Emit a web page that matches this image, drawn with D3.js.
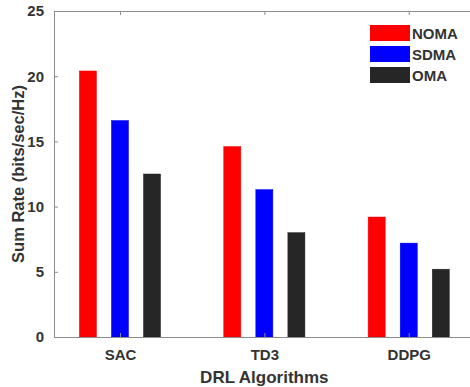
<!DOCTYPE html>
<html>
<head>
<meta charset="utf-8">
<script src="https://cdn.jsdelivr.net/npm/d3@7"></script>
<style>
  body { margin: 0; background: #fff; }
  svg text { font-family: "Liberation Sans", Arial, sans-serif; font-weight: bold; fill: #333; }
</style>
</head>
<body>
<div id="chart"></div>
<script>
// data
var categories = ["SAC", "TD3", "DDPG"];
var seriesNames = ["NOMA", "SDMA", "OMA"];
var seriesColors = ["#ff0000", "#0000ff", "#262626"];
var noma = [20.4, 14.6, 9.2];
var sdma = [16.6, 11.3, 7.2];
var oma = [12.5, 8.0, 5.2];
var yTicks = [0, 5, 10, 15, 20, 25];

var series = [noma, sdma, oma];

var width = 470, height = 387;
var margin = { top: 11, left: 54, bottom: 50 };
var plotRight = 474.7;

var svg = d3.select("#chart").append("svg")
    .attr("width", width)
    .attr("height", height);

// group index 1..3 on a linear scale, like the matlab bar chart
var x = d3.scaleLinear()
    .domain([0.543, 3.457])
    .range([margin.left, plotRight]);
var y = d3.scaleLinear()
    .domain([0, 25])
    .range([height - margin.bottom, margin.top]);

var offset = 0.222, barW = 0.118;

var groups = svg.selectAll(".series")
    .data(series)
    .enter().append("g")
    .attr("class", "series")
    .attr("fill", function (d, i) { return seriesColors[i]; });

groups.selectAll("rect")
    .data(function (d, i) { return d.map(function (v, j) { return { v: v, j: j, s: i }; }); })
    .enter().append("rect")
    .attr("x", function (d) { return x(d.j + 1 + (d.s - 1) * offset - barW / 2); })
    .attr("width", function (d) { return x(barW) - x(0); })
    .attr("y", function (d) { return y(d.v); })
    .attr("height", function (d) { return y(0) - y(d.v); })
    .attr("stroke", function (d) { return d3.color(seriesColors[d.s]).darker(0.3); })
    .attr("stroke-width", 0.5);

// axes
var xAxis = svg.append("g")
    .attr("transform", "translate(0," + y(0) + ")")
    .call(d3.axisBottom(x).tickValues([1, 2, 3])
        .tickFormat(function (d) { return categories[d - 1]; })
        .tickSizeInner(-4).tickSizeOuter(0).tickPadding(12));

var xTop = svg.append("g")
    .attr("transform", "translate(0," + y(25) + ")")
    .call(d3.axisTop(x).tickValues([1, 2, 3]).tickFormat("")
        .tickSizeInner(-4).tickSizeOuter(0));

var yAxis = svg.append("g")
    .attr("transform", "translate(" + margin.left + ",0)")
    .call(d3.axisLeft(y).tickValues(yTicks)
        .tickSizeInner(-4).tickSizeOuter(0).tickPadding(10));

var yRight = svg.append("g")
    .attr("transform", "translate(" + plotRight + ",0)")
    .call(d3.axisRight(y).tickValues(yTicks).tickFormat("")
        .tickSizeInner(-4).tickSizeOuter(0));

svg.selectAll(".domain, .tick line")
    .attr("stroke", "#8c8c8c")
    .attr("stroke-width", 1);

svg.selectAll(".tick text")
    .style("font-size", "15px")
    .attr("fill", "#333");

// axis titles
svg.append("text")
    .attr("x", x(2))
    .attr("y", 383)
    .attr("text-anchor", "middle")
    .style("font-size", "17px")
    .text("DRL Algorithms");

svg.append("text")
    .attr("transform", "translate(24," + y(12.5) + ") rotate(-90)")
    .attr("text-anchor", "middle")
    .style("font-size", "16.5px")
    .text("Sum Rate (bits/sec/Hz)");

// legend
var legend = svg.append("g").attr("transform", "translate(370,25)");
var items = legend.selectAll("g")
    .data(seriesNames)
    .enter().append("g")
    .attr("transform", function (d, i) { return "translate(0," + i * 21 + ")"; });
items.append("rect")
    .attr("width", 40)
    .attr("height", 16)
    .attr("fill", function (d, i) { return seriesColors[i]; });
items.append("text")
    .attr("x", 42)
    .attr("y", 14)
    .style("font-size", "15px")
    .text(function (d) { return d; });
</script>
</body>
</html>
